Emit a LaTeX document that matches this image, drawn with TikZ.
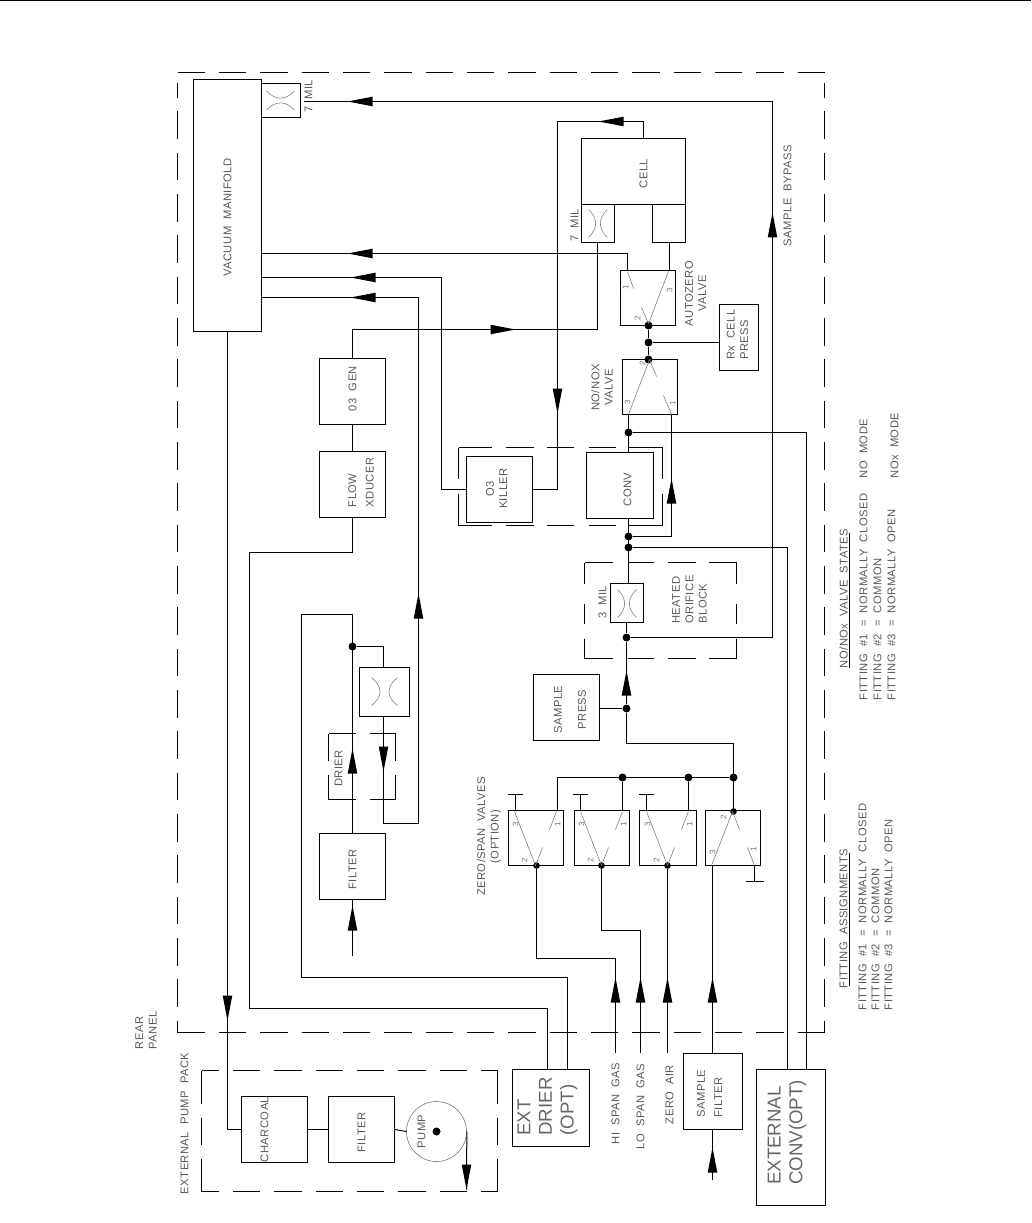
\documentclass[tikz,border=0pt]{standalone}
\usepackage{fontspec}
\setmainfont{Liberation Sans}
\usetikzlibrary{arrows.meta,positioning,calc}
\tikzset{
  bx/.style 2 args={draw,inner sep=0pt,line width=0.75pt,minimum width=#1*0.75pt,minimum height=#2*0.75pt},
  pipe/.style={line width=0.75pt},
  dline/.style={line width=0.75pt,dash pattern=on 20.65pt off 10.35pt},
  seg/.style={line width=0.75pt},
  pont/.style={circle,fill,inner sep=0pt,minimum size=6pt},
  kispont/.style={circle,fill,inner sep=0pt,minimum size=5pt},
  vln/.style={black!50,line width=0.45pt},
  lbl/.style={rotate=90,inner sep=0pt,align=center,text=black!65,font=\fontsize{8.4}{10}\selectfont\addfontfeature{LetterSpace=4}},
  lbll/.style={lbl,align=left},
  szam/.style={rotate=90,inner sep=0pt,text=black!55,font=\fontsize{6}{7}\selectfont},
  nagy/.style={lbll,text=black!60,font=\fontsize{14}{16.2}\selectfont},
}
% arrowhead: tip at #1,#2; 0 left, 90 down, -90 up, 180 right
\newcommand{\head}[3]{\fill[shift={(#1,#2)},rotate=#3] (0,0) -- (25,-4.8) -- (25,4.8) -- cycle;}
% orifice: centre #1,#2; rotation #3; half gap #4; control #5
\newcommand{\orifsym}[5]{\draw[vln,shift={(#1,#2)},rotate=#3]
  (-#4,-14) .. controls (-#5,-5) and (-#5,5) .. (-#4,14)
  (#4,-14) .. controls (#5,-5) and (#5,5) .. (#4,14);}
\begin{document}
\begin{tikzpicture}[x=0.75pt,y=-0.75pt,shift={(0.5,0.5)}]
  \useasboundingbox (-0.5,-0.5) rectangle (1030.5,1222.5);
  \draw[line width=1.2pt] (-0.5,0.1) -- (1030.5,0.1);

  % 1. dashed enclosures
  \draw[dline] (177,72) -- (824,72);
  \draw[dline] (177,1032) -- (824,1032);
  \foreach \x in {177,824} \draw[dline,dash phase=10.1pt] (\x,83) -- (\x,1032);
  % heated block
  \foreach \a/\b in {584/612,627/653,667/695,708/736}{
    \draw[seg] (\a,562) -- (\b,562); \draw[seg] (\a,658) -- (\b,658);
  }
  \foreach \a/\b in {562/583,603/623,638/658}{
    \draw[seg] (584,\a) -- (584,\b); \draw[seg] (736,\a) -- (736,\b);
  }
  % killer + converter
  \foreach \a/\b in {458/491,505/533,546/573,588/615,628/662}{
    \draw[seg] (\a,447) -- (\b,447); \draw[seg] (\a,525) -- (\b,525);
  }
  \foreach \a/\b in {447/478,493/525}{
    \draw[seg] (458,\a) -- (458,\b); \draw[seg] (662,\a) -- (662,\b);
  }
  % drier
  \foreach \y in {733,799} \draw[dline] (328,\y) -- (395,\y);
  \foreach \x in {328,395} \draw[dline] (\x,733) -- (\x,799);
  % pump pack
  \foreach \y in {1070,1191} \draw[dline,dash phase=7.5pt] (201,\y) -- (497,\y);
  \foreach \a/\b in {1070/1103,1117/1144,1158/1191}{
    \draw[seg] (201,\a) -- (201,\b); \draw[seg] (497,\a) -- (497,\b);
  }

  % 2. boxes
  \node[bx={68}{252}] (vacman) at (227,205) {};
  \node[bx={39}{34}] (orifman) at (280.5,100) {};
  \node[bx={66}{66}] (o3gen) at (352,391) {};
  \node[bx={66}{66}] (flowx) at (352,484) {};
  \node[bx={66}{66}] (filter) at (352,866) {};
  \node[bx={50}{49}] (orifdry) at (384,691.5) {};
  \node[bx={66}{66}] (o3kill) at (499,489) {};
  \node[bx={67}{66}] (conv) at (619.5,485) {};
  \node[bx={104}{66}] (cell) at (633,171) {};
  \node[bx={33}{38}] (orifcell) at (597.5,223) {};
  \node[bx={33}{38}] (boxcell) at (668.5,223) {};
  \node[bx={55}{55}] (azvalve) at (647.5,297.5) {};
  \node[bx={39}{66}] (rxpress) at (738.5,337) {};
  \node[bx={55}{55}] (noxvalve) at (649.5,386.5) {};
  \node[bx={33}{39}] (orif3) at (626.5,602.5) {};
  \node[bx={66}{66}] (spress) at (566,707) {};
  \node[bx={55}{55}] (vhi) at (535.5,837.5) {};
  \node[bx={55}{55}] (vlo) at (601.5,837.5) {};
  \node[bx={57}{55}] (vzero) at (667.5,837.5) {};
  \node[bx={55}{55}] (vsamp) at (732.5,837.5) {};
  \node[bx={59}{76}] (sfilter) at (712.5,1091) {};
  \node[bx={69}{136}] (extconv) at (790.5,1137) {};
  \node[bx={77}{77}] (extdrier) at (550.5,1107.5) {};
  \node[bx={66}{66}] (charcoal) at (274,1129) {};
  \node[bx={66}{66}] (pfilter) at (361,1129) {};
  \node[circle,draw=black!50,line width=0.5pt,inner sep=0pt,minimum size=45pt] (pump) at (436,1131) {};
  \node[pont] (pumpdot) at (436,1131) {};

  % 3. junctions
  \node[pont] (jdry) at (352,646) {};
  \node[pont] (jaz) at (648,325) {};
  \node[pont] (jrx) at (648,342) {};
  \node[pont] (jnx) at (648,359) {};
  \node[pont] (jnox) at (628,432) {};
  \node[pont] (jconva) at (628,536) {};
  \node[pont] (jconvb) at (628,547) {};
  \node[pont] (jlow) at (626,637) {};
  \node[pont] (jspress) at (626,708) {};
  \node[pont] (jbusa) at (622,777) {};
  \node[pont] (jbusb) at (688,777) {};
  \node[pont] (jbusc) at (733,777) {};
  \node[kispont] (jvsamp) at (733,811) {};
  \node[kispont] (jvhi) at (536,865) {};
  \node[kispont] (jvlo) at (601,865) {};
  \node[kispont] (jvzero) at (667,865) {};
  \coordinate (orifend) at (303,101);
  \coordinate (hiend) at (615,1052);
  \coordinate (loend) at (640,1052);
  \coordinate (zeroend) at (667,1052);
  \coordinate (filtin) at (352,955);
  \coordinate (sfiltin) at (712,1179);
  \coordinate (pumpout) at (466,1189);

  % 4. connectors
  \draw[pipe] (jlow) -| (772,101) -- (orifend);
  \draw[pipe] (vacman.east |- 0,253) -| (627,270);
  \draw[pipe] (vacman.east |- 0,277) -| (441,489) -- (o3kill.west);
  \draw[pipe] (vacman.east |- 0,297) -| (418,823) -| (383,716);
  \draw[pipe] (o3gen.north) |- (597,329) -- (597,242);
  \draw[pipe] (o3gen.south) -- (flowx.north);
  \draw[pipe] (flowx.south) |- (249,552) |- (547,1008) -- (extdrier.north -| 547,0);
  \draw[pipe] (filter.north) |- (301,614) |- (567,977) -- (extdrier.north -| 567,0);
  \draw[pipe] (jdry) -| (383,667);
  \draw[pipe] (filtin) -- (filter.south);
  \draw[pipe] (vacman.south) |- (charcoal.west);
  \draw[pipe] (charcoal.east) -- (pfilter.west);
  \draw[pipe] (pfilter.east) -- (pump.west);
  \draw[pipe] (pump.east) -- (pumpout);
  \draw[pipe] (o3kill.east) -| (557,121) -| (cell.north -| 643,0);
  \draw[pipe] (noxvalve.south -| jnox) -- (conv.north -| jnox);
  \draw[pipe] (conv.south -| jnox) -- (orif3.north -| jnox);
  \draw[pipe] (jnox) -| (extconv.north -| 806,0);
  \draw[pipe] (jconvb) -| (extconv.north -| 787,0);
  \draw[pipe] (jconva) -| (noxvalve.south -| 671,0);
  \draw[pipe] (jaz) -- (jrx) -- (jnx);
  \draw[pipe] (jrx) -- (rxpress.west |- jrx);
  \draw[pipe] (boxcell.south -| 669,0) -- (azvalve.north -| 669,0);
  \draw[pipe] (orif3.south -| jlow) -- (jlow) -- (jspress) |- (733,743) -- (jvsamp);
  \draw[pipe] (spress.east |- jspress) -- (jspress);
  \draw[pipe] (vhi.north -| 557,0) |- (jbusc);
  \draw[pipe] (jbusa) -- (vlo.north -| jbusa);
  \draw[pipe] (jbusb) -- (vzero.north -| jbusb);
  \draw[pipe] (jvhi) |- (615,958) -- (hiend);
  \draw[pipe] (jvlo) |- (640,930) -- (loend);
  \draw[pipe] (jvzero) -- (zeroend);
  \draw[pipe] (vsamp.south -| 712,0) -- (sfilter.north -| 712,0);
  \draw[pipe] (sfilter.south -| sfiltin) -- (sfiltin);
  % capped ports
  \foreach \x in {515,580,646}{
    \draw[pipe] (\x,810) -- (\x,794);
    \draw[pipe] (\x-7.5,794) -- (\x+7.5,794);
  }
  \draw[pipe] (754,865) -- (754,881);
  \draw[pipe] (745,881) -- (763,881);

  % 5. arrowheads
  \foreach \x/\y/\r in {347/101/0,347/253/0,350/277/0,350/297/0,515/329/180,598/121/0,
    557/413/90,772/212/-90,418/593/-90,383/771/90,352/748/-90,352/905/-90,227/1020/90,
    466/1189/90,671/478/-90,626/670/-90,615/977/-90,640/977/-90,667/977/-90,712/977/-90,
    712/1147/-90}{
    \head{\x}{\y}{\r}
  }

  % 6. valve insides
  \draw[vln] (648,323) -- (668,271) (648,323) -- (641,307) (627,271) -- (633,288);
  \draw[vln] (649,359) -- (628,414) (649,359) -- (656,376) (671,414) -- (663,395);
  \foreach \o in {0,66,132}{
    \draw[vln] (514+\o,811) -- (535+\o,865) (535+\o,865) -- (542+\o,847) (556+\o,811) -- (549+\o,829);
    \node[szam] (num3v\o) at (515+\o,824) {3};
    \node[szam] (num2v\o) at (524+\o,860) {2};
    \node[szam] (num1v\o) at (557+\o,824) {1};
  }
  \draw[vln] (732,811) -- (711,865) (732,811) -- (739,829) (754,865) -- (747,847);
  \node[szam] (nums2) at (723,817) {2};
  \node[szam] (nums3) at (712,852) {3};
  \node[szam] (nums1) at (753,849) {1};
  \node[szam] (numa1) at (625,287) {1};
  \node[szam] (numa2) at (637,318) {2};
  \node[szam] (numa3) at (669,290) {3};
  \node[szam] (numn2) at (642,363) {2};
  \node[szam] (numn3) at (627,402) {3};
  \node[szam] (numn1) at (672,403) {1};
  % orifices
  \orifsym{280}{100}{90}{9.5}{0}
  \orifsym{597.5}{223}{0}{9.5}{0}
  \orifsym{626.5}{603}{0}{9.5}{0}
  \orifsym{384}{691}{0}{13}{1.7}

  % 7. labels
  \node[lbl] (tvac) at (227,217) {VACUUM\ \ MANIFOLD};
  \node[lbl] (tmila) at (308,96) {7\ \ MIL};
  \node[lbl] (to3gen) at (352,388) {03\ \ GEN};
  \node[lbll] (tflow) at (360.5,482) {FLOW\\[3pt]XDUCER};
  \node[lbl] (tkill) at (496,488) {O3\\KILLER};
  \node[lbl] (tconv) at (627,489) {CONV};
  \node[lbl] (tcell) at (643,173) {CELL};
  \node[lbl] (tmilb) at (574,225) {7\ \ MIL};
  \node[lbl] (taz) at (695,293) {AUTOZERO\\VALVE};
  \node[lbll] (trx) at (737,334) {Rx\ \ CELL\\PRESS};
  \node[lbl] (tbyp) at (787,195) {SAMPLE\ \ BYPASS};
  \node[lbl] (tnox) at (601.5,387) {NO/NOX\\VALVE};
  \node[lbl] (tmilc) at (602,602) {3\ \ MIL};
  \node[lbll] (theat) at (689,599) {HEATED\\ORIFICE\\BLOCK};
  \node[lbl] (tspress) at (569.5,709) {SAMPLE\\[8pt]PRESS};
  \node[lbl] (tfilter) at (352,869) {FILTER};
  \node[lbl] (tdrier) at (338,768) {DRIER};
  \node[lbl] (tzero) at (488.5,836) {ZERO/SPAN\ \ VALVES\\(OPTION)};
  \node[lbll] (trear) at (145.5,1030) {REAR\\PANEL};
  \node[lbl] (tpack) at (184,1123) {EXTERNAL\ \ PUMP\ \ PACK};
  \node[lbl] (tchar) at (264,1129) {CHARCOAL};
  \node[lbl] (tpfil) at (361,1132) {FILTER};
  \node[lbl] (tpump) at (421,1131) {PUMP};
  \node[nagy] (tdrr) at (547,1106) {EXT\\DRIER\\(OPT)};
  \node[nagy] (tecv) at (786.5,1132) {EXTERNAL\\CONV(OPT)};
  \node[lbl] (thi) at (615,1103) {HI\ \ SPAN\ \ GAS};
  \node[lbl] (tlo) at (640,1106) {LO\ \ SPAN\ \ GAS};
  \node[lbl] (tair) at (669,1094) {ZERO\ \ AIR};
  \node[lbll] (tsfil) at (709,1093) {SAMPLE\\[3pt]FILTER};

  % 8. tables
  \node[lbl] (tfit) at (843,918) {FITTING\ \ ASSIGNMENTS};
  \draw[seg] (849,852) -- (849,985);
  \foreach \n/\t/\x in {1/NORMALLY\ \ CLOSED/862,2/COMMON/875,3/NORMALLY\ \ OPEN/888}{
    \node[lbl,anchor=west] (fita\n) at (\x,1010) {FITTING\ \ \#\n\ \ =\ \ \t};
  }
  \node[lbl] (tstate) at (843,598) {NO/NOx\ \ VALVE\ \ STATES};
  \draw[seg] (849,532) -- (849,667);
  \foreach \n/\t/\x in {1/NORMALLY\ \ CLOSED/863,2/COMMON/877,3/NORMALLY\ \ OPEN/891}{
    \node[lbl,anchor=west] (fitb\n) at (\x,700) {FITTING\ \ \#\n\ \ =\ \ \t};
  }
  \node[lbl,anchor=west] (tnomode) at (863,478) {NO\ \ MODE};
  \node[lbl,anchor=west] (tnoxmode) at (894,478) {NOx\ \ MODE};
\end{tikzpicture}
\end{document}
